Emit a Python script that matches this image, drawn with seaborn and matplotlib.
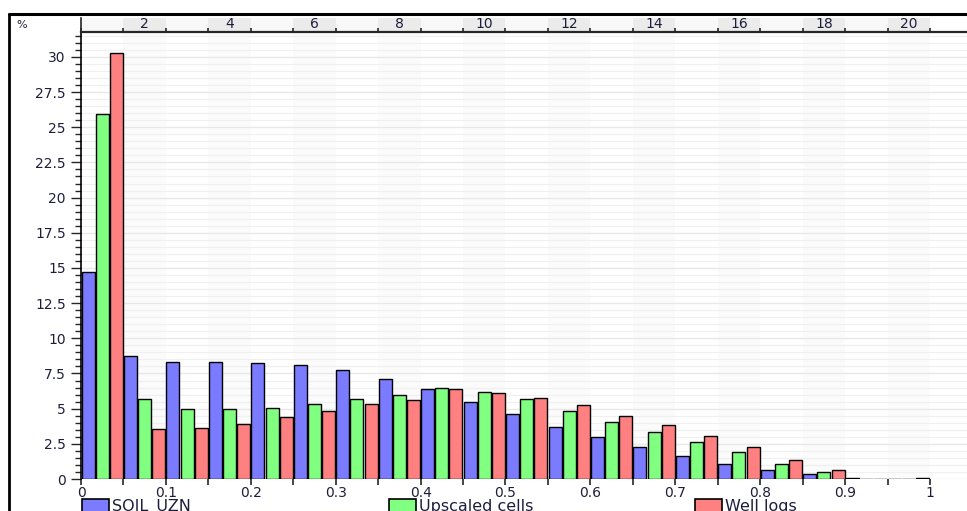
import matplotlib
matplotlib.use("Agg")
import matplotlib.pyplot as plt
import numpy as np
import pandas as pd
import seaborn as sns
from matplotlib.patches import Patch
from matplotlib.lines import Line2D
from matplotlib.ticker import MultipleLocator, FuncFormatter

# ---- data -------------------------------------------------------------
bin_centers = [0.025, 0.075, 0.125, 0.175, 0.225, 0.275, 0.325, 0.375, 0.425, 0.475,
               0.525, 0.575, 0.625, 0.675, 0.725, 0.775, 0.825, 0.875, 0.925, 0.975]
bin_numbers = [1, 2, 3, 4, 5, 6, 7, 8, 9, 10, 11, 12, 13, 14, 15, 16, 17, 18, 19, 20]
top_labels = ["2", "4", "6", "8", "10", "12", "14", "16", "18", "20"]

soil_uzn = [14.7, 8.74, 8.34, 8.34, 8.22, 8.08, 7.72, 7.11, 6.37, 5.47,
            4.62, 3.72, 2.99, 2.25, 1.63, 1.09, 0.66, 0.38, 0.10, 0.0]
upscaled_cells = [25.94, 5.66, 5.0, 5.0, 5.05, 5.35, 5.71, 5.95, 6.49, 6.21,
                  5.66, 4.81, 4.08, 3.34, 2.61, 1.90, 1.09, 0.48, 0.03, 0.0]
well_logs = [30.3, 3.53, 3.65, 3.89, 4.38, 4.81, 5.35, 5.59, 6.37, 6.14,
             5.78, 5.24, 4.50, 3.81, 3.03, 2.25, 1.33, 0.62, 0.03, 0.04]

series_names = ["SOIL_UZN", "Upscaled cells", "Well logs"]
series_colors = {"SOIL_UZN": "#7b7bff", "Upscaled cells": "#80ff80", "Well logs": "#ff8080"}

bin_width = 0.05

df = pd.DataFrame({
    "center": bin_centers * 3,
    "pct": soil_uzn + upscaled_cells + well_logs,
    "series": [series_names[0]] * 20 + [series_names[1]] * 20 + [series_names[2]] * 20,
})

# ---- figure layout (pixel based) --------------------------------------
W, H = 967, 511
fig = plt.figure(figsize=(W / 100, H / 100), dpi=100)
fig.patch.set_facecolor("white")

sns.set_style("white")
plt.rcParams["font.family"] = ["DejaVu Sans"]

txt_col = "#1e1e3c"

x_left_px, x_right_px = 81, 967
y_top_px, y_zero_px = 32, 479
strip_top_px = 14

xmax = 1.0436
ymax = 31.77

ax = fig.add_axes([x_left_px / W, 1 - y_zero_px / H,
                   (x_right_px - x_left_px) / W, (y_zero_px - y_top_px) / H])
ax.set_facecolor("white")

# alternating faint bin bands behind the bars
for i, c in enumerate(bin_centers):
    if bin_numbers[i] % 2 == 0:
        ax.axvspan(c - bin_width / 2, c + bin_width / 2, color="#fbfbfb", zorder=0, lw=0)

sns.barplot(data=df, x="center", y="pct", hue="series", hue_order=series_names,
            palette=series_colors, saturation=1, native_scale=True, width=1.0, gap=0.08,
            edgecolor="black", linewidth=1.0, legend=False, ax=ax, zorder=3)

ax.set_xlim(0, xmax)
ax.set_ylim(0, ymax)
ax.set_xlabel("")
ax.set_ylabel("")

# grid
ax.set_axisbelow(True)
ax.yaxis.set_major_locator(MultipleLocator(2.5))
ax.yaxis.set_minor_locator(MultipleLocator(0.5))
ax.grid(which="major", axis="y", color="#e8e8e8", lw=1.0, zorder=1)
ax.grid(which="minor", axis="y", color="#f0f0f0", lw=0.9, zorder=1)
ax.grid(which="both", axis="x", visible=False)

ax.yaxis.set_major_formatter(FuncFormatter(lambda v, p: f"{v:g}"))
ax.tick_params(axis="y", which="major", direction="out", length=7, width=1,
               labelsize=10, labelcolor=txt_col, pad=4, left=True)
ax.tick_params(axis="y", which="minor", direction="out", length=4, width=1, left=True)

ax.xaxis.set_major_locator(MultipleLocator(0.1))
ax.xaxis.set_minor_locator(MultipleLocator(0.05))
ax.xaxis.set_major_formatter(FuncFormatter(lambda v, p: f"{v:g}"))
ax.tick_params(axis="x", which="both", direction="out", length=4, width=1.2,
               labelsize=10, labelcolor=txt_col, pad=1, bottom=True)

for s in ["top", "right", "bottom"]:
    ax.spines[s].set_visible(False)
ax.spines["left"].set_color("black")
ax.spines["left"].set_linewidth(1.2)

# ---- top strip with bin numbers ---------------------------------------
ax_top = fig.add_axes([x_left_px / W, 1 - y_top_px / H,
                       (x_right_px - x_left_px) / W, (y_top_px - strip_top_px - 4) / H])
ax_top.set_facecolor("white")
ax_top.set_xlim(0, xmax)
ax_top.set_ylim(0, 1)
for i, c in enumerate(bin_centers):
    col = "#ebebeb" if bin_numbers[i] % 2 == 0 else "#f8f8f8"
    ax_top.axvspan(c - bin_width / 2, c + bin_width / 2, color=col, lw=0, zorder=0)
even_centers = [c for c, n in zip(bin_centers, bin_numbers) if n % 2 == 0]
for c, lab in zip(even_centers, top_labels):
    ax_top.text(c, 0.55, lab, ha="center", va="center", fontsize=10, color=txt_col)
ax_top.xaxis.set_major_locator(MultipleLocator(0.05))
ax_top.tick_params(axis="x", which="both", direction="in", length=3, width=1.2,
                   labelbottom=False, bottom=True)
ax_top.set_yticks([])
for s in ["top", "right"]:
    ax_top.spines[s].set_visible(False)
ax_top.spines["bottom"].set_linewidth(1.6)
ax_top.spines["left"].set_linewidth(1.2)

fig.text(22 / W, 1 - 25 / H, "%", fontsize=8, color=txt_col, ha="center", va="center")

# outer frame
fig.add_artist(Line2D([9 / W, 9 / W], [0, 1 - strip_top_px / H], color="black", lw=2))
fig.add_artist(Line2D([9 / W, 1], [1 - strip_top_px / H, 1 - strip_top_px / H],
                      color="black", lw=2.2))

# ---- legend ------------------------------------------------------------
legend_x_px = [82, 389, 695]
for name, xp in zip(series_names, legend_x_px):
    h = Patch(facecolor=series_colors[name], edgecolor="black", lw=1.2)
    fig.legend(handles=[h], labels=[name], loc="upper left",
               bbox_to_anchor=(xp / W, 1 - 499 / H), frameon=False,
               fontsize=11.5, labelcolor=txt_col, handlelength=1.7, handleheight=0.9,
               handletextpad=0.2, borderpad=0, borderaxespad=0)

fig.savefig("out.png", dpi=100)
